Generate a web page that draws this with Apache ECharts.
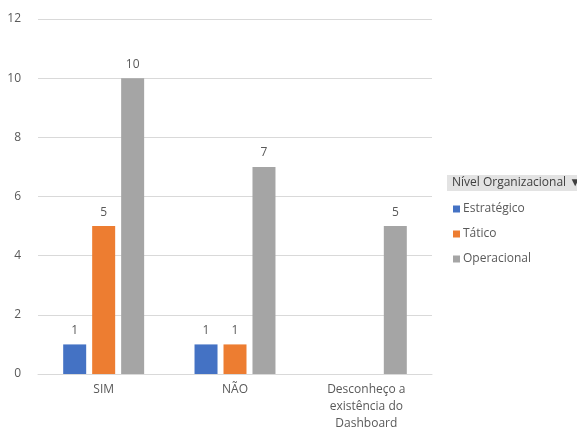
<!DOCTYPE html>
<html><head><meta charset="utf-8">
<script src="https://cdn.jsdelivr.net/npm/echarts@6/dist/echarts.min.js"></script>
<style>html,body{margin:0;padding:0;background:#fff}#c{width:577px;height:427px}</style>
</head><body><div id="c"></div>
<script>
const categories = ['SIM', 'NÃO', 'Desconheço a\nexistência do\nDashboard'];
const estrategico = [1, 1, null];
const tatico = [5, 1, null];
const operacional = [10, 7, 5];
const seriesNames = ['Estratégico', 'Tático', 'Operacional'];
const colors = ['#4472C4', '#ED7D31', '#A5A5A5'];
const legendTitle = 'Nível Organizacional ▼';

const font = 'Open Sans';
const chart = echarts.init(document.getElementById('c'), null, {renderer: 'canvas'});
const mk = (name, data, color) => ({
  name, type: 'bar', data, barWidth: 23, barGap: '26%',
  itemStyle: {color},
  label: {show: true, position: 'top', color: '#595959', fontSize: 12, fontFamily: font, distance: 8}
});
chart.setOption({
  animation: false,
  textStyle: {fontFamily: font},
  title: {
    text: legendTitle, left: 447, top: 175,
    backgroundColor: '#e3e3e3', padding: [2, 4, 2, 5],
    textStyle: {fontSize: 12, fontWeight: 'normal', color: '#404040', fontFamily: font, width: 121}
  },
  legend: {
    orient: 'vertical', left: 448, top: 197, itemWidth: 7, itemHeight: 7, itemGap: 11,
    icon: 'rect',
    textStyle: {fontSize: 12, color: '#595959', fontFamily: font, padding: [0,0,0,-2], lineHeight: 14},
    data: seriesNames
  },
  grid: {left: 38, right: 145, top: 19, bottom: 53, containLabel: false, outerBoundsMode: 'none'},
  xAxis: {
    type: 'category', data: categories,
    axisLine: {lineStyle: {color: '#d9d9d9'}}, axisTick: {show: false},
    axisLabel: {color: '#595959', fontSize: 12, fontFamily: font, lineHeight: 17, margin: 7, interval: 0}
  },
  yAxis: {
    type: 'value', min: 0, max: 12, interval: 2,
    axisLine: {show: false}, axisTick: {show: false},
    splitLine: {lineStyle: {color: '#d9d9d9'}},
    axisLabel: {color: '#595959', fontSize: 12, fontFamily: font, margin: 17}
  },
  series: [
    mk(seriesNames[0], estrategico, colors[0]),
    mk(seriesNames[1], tatico, colors[1]),
    mk(seriesNames[2], operacional, colors[2])
  ]
});
</script></body></html>
